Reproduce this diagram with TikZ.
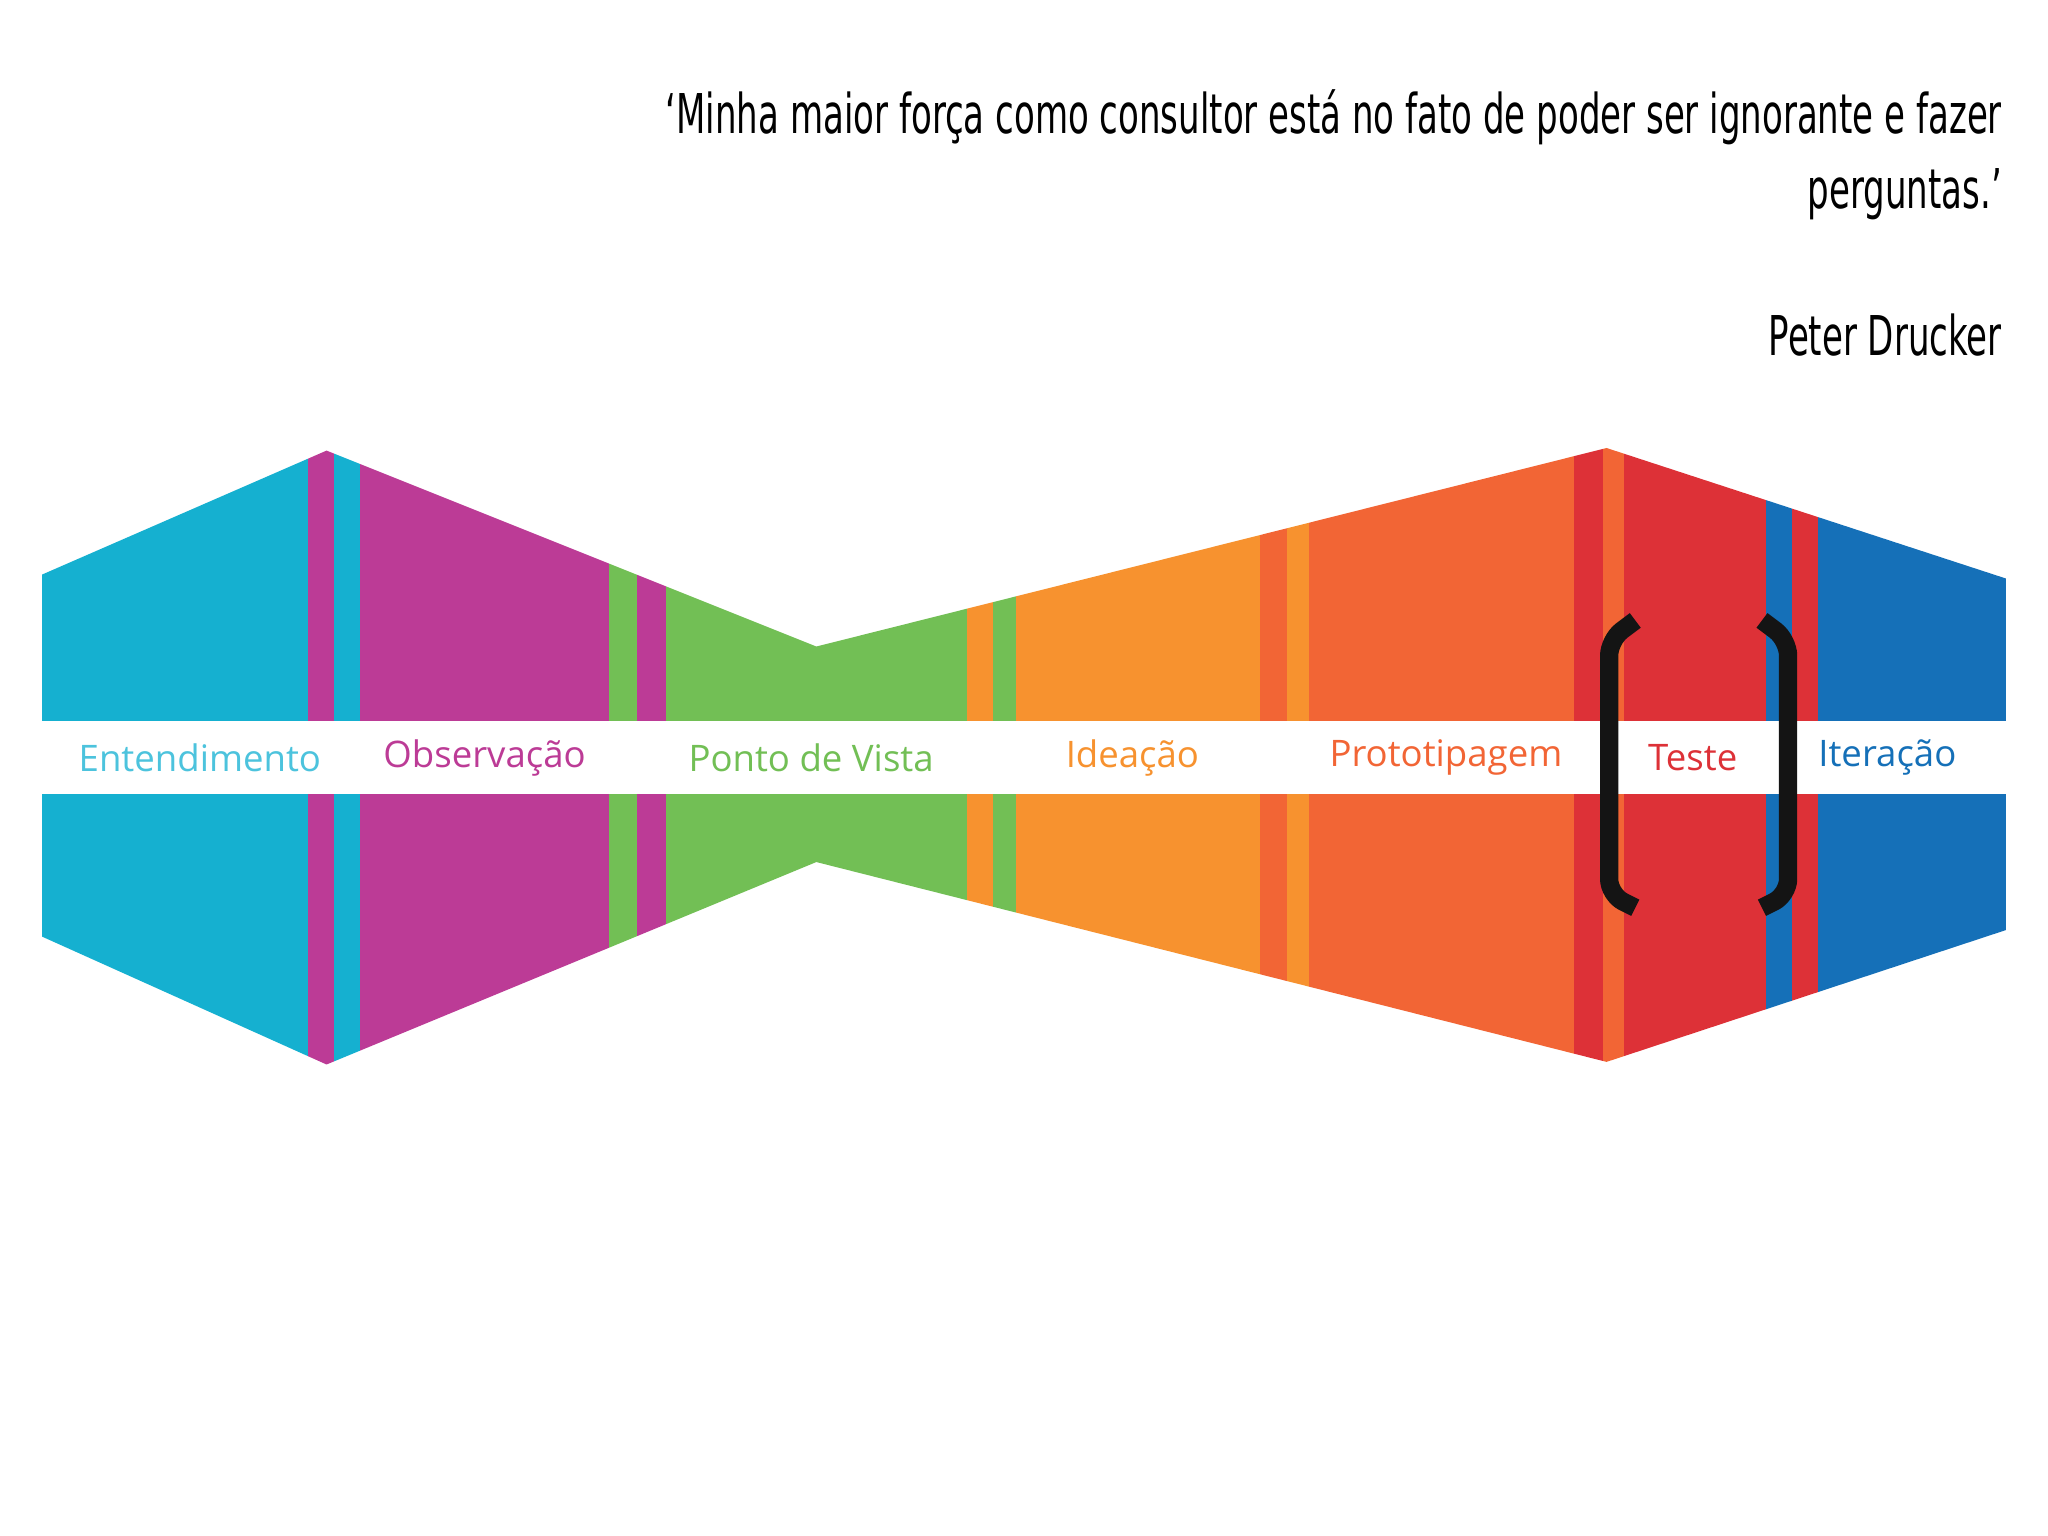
\documentclass[tikz,border=0pt]{standalone}
\usepackage{fontspec}
\setmainfont{Open Sans}
\newfontfamily\qf[FakeStretch=0.62]{DejaVu Sans}
\definecolor{cy}{HTML}{15B0D0}
\definecolor{mg}{HTML}{BC3B96}
\definecolor{gr}{HTML}{72BF55}
\definecolor{org}{HTML}{F7922F}
\definecolor{orr}{HTML}{F26535}
\definecolor{rd}{HTML}{DD3137}
\definecolor{bl}{HTML}{1570B8}
\definecolor{cyt}{HTML}{4CC3DD}
\begin{document}
\begin{tikzpicture}[x=0.5pt,y=-0.5pt,
 lab/.style={font=\fontsize{14}{16}\selectfont, anchor=center},
 brk/.style={line width=7pt, black!92, rounded corners=6pt}]
\useasboundingbox (0,0) rectangle (1568,1176);
\fill[white] (0,0) rectangle (1568,1176);
\begin{scope}
\clip (32,440)--(250,345)--(625,495)--(1230,343)--(1536,443)--(1536,712)--(1230,813)--(625,660)--(250,815)--(32,717)--cycle;
\foreach \a/\b/\c in {32/236/cy,236/256/mg,256/276/cy,276/466/mg,466/488/gr,488/510/mg,510/740/gr,740/760/org,760/778/gr,778/965/org,965/985/orr,985/1002/org,1002/1205/orr,1205/1227/rd,1227/1243/orr,1243/1352/rd,1352/1372/bl,1372/1392/rd,1392/1536/bl}
  \fill[\c] (\a,330) rectangle (\b,830);
\end{scope}
\fill[white] (30,552) rectangle (1538,608);
\node[lab,text=cyt] (e) at (153,580) {Entendimento};
\node[lab,text=mg] (o) at (371,580) {Observação};
\node[lab,text=gr] (p) at (621,580) {Ponto de Vista};
\node[lab,text=org] (i) at (867,580) {Ideação};
\node[lab,text=orr] (pr) at (1107,580) {Prototipagem};
\node[lab,text=rd] (t) at (1296,580) {Teste};
\node[lab,text=bl] (it) at (1445,580) {Iteração};
\draw[brk] (1252,475)--(1232,490)--(1232,685)--(1252,695);
\draw[brk] (1349,475)--(1369,490)--(1369,685)--(1349,695);
\node[anchor=north east,align=right,inner sep=0pt,font=\qf\fontsize{21}{29}\selectfont] (q) at (1533,68)
 {‘Minha maior força como consultor está no fato de poder ser ignorante e fazer\\perguntas.’};
\node[anchor=north east,inner sep=0pt,font=\qf\fontsize{21}{29}\selectfont] (a) at (1533,240) {Peter Drucker};
\end{tikzpicture}
\end{document}
